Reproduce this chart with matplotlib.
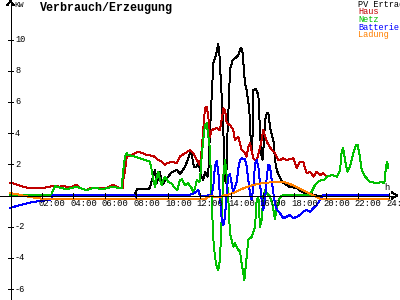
import matplotlib
matplotlib.use("Agg")
import matplotlib.pyplot as plt

# ---- data (hours, kW) ----
pv_t = [0, 7.85, 8.04, 8.8, 8.86, 9.18, 9.30, 9.49, 9.62, 9.94, 10.25, 10.57, 10.76, 11.08, 11.39, 11.5,
        11.65, 11.82, 11.92, 12.03, 12.13, 12.23, 12.34, 12.5, 12.55, 12.66, 12.87, 13.03, 13.18, 13.25,
        13.40, 13.5, 13.6, 13.68, 13.77, 13.87, 13.92, 14.10, 14.24, 14.45, 14.60, 14.70, 14.77, 14.87,
        14.98, 15.15, 15.19, 15.30, 15.37, 15.40, 15.55, 15.72, 15.82, 15.90, 15.98, 16.08, 16.14, 16.25,
        16.35, 16.46, 16.56, 16.67, 16.77, 16.88, 17.09, 17.30, 17.72, 18.15, 18.35, 18.67, 18.99, 19.30,
        19.41, 24]
pv_v = [0, 0, 0.42, 0.42, 0.55, 1.63, 0.80, 1.50, 0.67, 1.12, 1.51, 1.63, 1.38, 1.83, 2.70, 2.6,
        1.83, 1.85, 2.17, 1.63, 1.21, 1.0, 1.5, 1.2, 1.4, 4.2, 8.49, 9.0, 9.71, 9.13,
        6.3, 4.2, 1.0, 0.8, 4.2, 6.5, 8.05, 8.69, 8.79, 9.0, 9.44, 9.33, 8.49, 7.21,
        6.76, 5.48, 4.20, 2.9, 4.2, 6.76, 6.83, 6.44, 4.20, 2.6, 2.3, 3.5, 4.84, 5.27,
        5.27, 4.39, 3.9, 3.56, 2.28, 1.63, 1.12, 0.80, 0.54, 0.48, 0.29, 0.16, 0.10, 0.03,
        0, 0]

haus_t = [0, 0.21, 0.53, 0.82, 1.27, 1.9, 2.53, 2.72, 2.96, 3.16, 3.35, 3.59, 3.80, 4.22, 4.43, 4.62,
          4.85, 5.06, 5.27, 5.70, 5.89, 6.12, 6.52, 6.85, 7.13, 7.17, 7.28, 7.39, 7.59, 7.91, 8.12,
          8.34, 8.65, 9.07, 9.39, 9.60, 9.81, 9.92, 10.23, 10.55, 10.76, 11.08, 11.39, 11.6, 11.82,
          12.03, 12.13, 12.23, 12.34, 12.45, 12.55, 12.66, 12.76, 13.08, 13.29, 13.46, 13.50, 13.61,
          13.72, 13.92, 14.13, 14.24, 14.45, 14.66, 14.87, 14.98, 15.08, 15.19, 15.40, 15.61, 15.93,
          16.03, 16.25, 16.56, 16.77, 16.98, 17.09, 17.30, 17.51, 17.93, 18.15, 18.35, 18.56, 18.78,
          18.99, 19.20, 19.41, 19.62, 19.83, 20.04, 20.36, 20.68, 20.89, 20.99, 21.09, 21.20, 21.35,
          21.52, 21.73, 21.90, 22.0, 22.11, 22.26, 22.47, 22.78, 23.21, 23.52, 23.69, 23.80, 23.88, 23.94]
haus_v = [0.78, 0.78, 0.67, 0.56, 0.46, 0.46, 0.56, 0.61, 0.61, 0.56, 0.61, 0.56, 0.50, 0.70, 0.48, 0.42,
          0.35, 0.46, 0.46, 0.46, 0.45, 0.50, 0.70, 0.50, 0.50, 1.0, 1.6, 2.49, 2.53, 2.71, 2.81,
          2.74, 2.60, 2.53, 2.28, 2.17, 1.96, 2.06, 2.17, 2.06, 2.50, 2.71, 2.92, 2.71, 2.28,
          1.96, 2.92, 4.2, 5.59, 5.69, 5.05, 3.77, 4.2, 4.31, 4.2, 5.27, 5.59, 5.48,
          4.63, 4.52, 4.2, 3.56, 3.77, 2.92, 2.71, 2.49, 3.13, 3.35, 2.38, 2.17, 3.56,
          4.2, 3.45, 2.92, 2.71, 2.28, 2.28, 2.38, 2.28, 2.38, 1.74, 2.15, 2.15, 1.42,
          1.53, 1.21, 1.53, 1.31, 1.42, 1.21, 1.31, 1.21, 1.63, 2.81, 3.03, 2.28, 1.53,
          1.85, 2.71, 3.24, 3.24, 2.71, 1.63, 1.21, 0.88, 0.78, 0.88, 0.78, 1.85, 2.17, 1.74]

netz_t = [0, 2.6, 2.72, 2.85, 2.96, 3.16, 3.59, 3.80, 4.22, 4.43, 4.85, 5.27, 5.89, 6.52, 6.85, 7.07,
          7.17, 7.28, 7.39, 7.47, 7.70, 8.23, 8.65, 8.86, 8.97, 9.07, 9.18, 9.28, 9.39, 9.49, 9.60,
          9.70, 9.81, 10.02, 10.23, 10.44, 10.59, 10.76, 10.87, 11.08, 11.28, 11.50, 11.60, 11.71,
          11.82, 11.96, 12.03, 12.13, 12.23, 12.34, 12.45, 12.55, 12.66, 12.76, 12.87, 12.97, 13.08,
          13.18, 13.29, 13.40, 13.50, 13.61, 13.72, 13.82, 13.92, 14.03, 14.13, 14.24, 14.35, 14.45,
          14.56, 14.66, 14.77, 14.83, 14.92, 15.08, 15.30, 15.51, 15.61, 15.72, 15.82, 15.93, 16.03,
          16.14, 16.25, 16.46, 16.6, 16.77, 16.88, 17.09, 17.30, 18.99, 19.09, 19.30, 19.51, 19.73,
          19.94, 20.04, 20.36, 20.68, 20.89, 20.99, 21.09, 21.20, 21.35, 21.52, 21.73, 21.90, 22.0,
          22.11, 22.26, 22.47, 22.78, 23.21, 23.52, 23.69, 23.80, 23.88, 23.94]
netz_v = [0.03, 0.03, 0.3, 0.61, 0.56, 0.50, 0.40, 0.45, 0.56, 0.48, 0.35, 0.48, 0.42, 0.56, 0.48, 0.50,
          1.63, 2.49, 2.71, 2.60, 2.55, 2.38, 2.25, 2.17, 1.63, 0.99, 0.56, 1.12, 1.53, 0.99, 0.67,
          0.99, 1.21, 0.88, 0.78, 0.46, 0.35, 0.99, 1.04, 0.67, 0.78, 0.46, 0.14, 0.46,
          0.99, 0.88, 0.99, 2.49, 3.56, 4.52, 4.63, 3.8, 2.92, -0.29, -2.8, -3.92, -4.56,
          -4.78, -4.13, -1.36, 1.21, 2.28, 1.21, -0.29, -2.42, -2.85, -3.28, -3.06, -3.28, -3.49,
          -3.60, -4.35, -4.99, -5.42, -4.56, -2.85, -2.64, -2.0, -0.29, -0.1, -2.0, -1.57, -0.08,
          0.35, 0.14, -0.08, -0.5, -1.5, -0.8, -0.1, 0.03, 0.03, 0.24, 0.67, 0.88, 0.99,
          1.04, 1.21, 1.31, 1.21, 1.63, 2.81, 3.03, 2.28, 1.53, 1.85, 2.71, 3.24, 3.24,
          2.71, 1.63, 1.21, 0.88, 0.78, 0.88, 0.78, 1.85, 2.17, 1.74]

batt_t = [0, 0.6, 1.27, 1.9, 2.4, 2.6, 2.7, 7.85, 7.95, 8.1, 11.3, 11.5, 11.65, 11.92, 12.03, 12.76,
          12.87, 12.97, 13.08, 13.18, 13.29, 13.40, 13.50, 13.61, 13.72, 13.82, 13.92, 14.03, 14.13,
          14.24, 14.35, 14.45, 14.56, 14.66, 14.87, 14.98, 15.08, 15.19, 15.30, 15.40, 15.51, 15.61,
          15.72, 15.82, 15.93, 16.03, 16.14, 16.25, 16.35, 16.46, 16.56, 16.67, 16.77, 16.88, 17.09,
          17.30, 17.51, 17.72, 17.93, 18.15, 18.35, 18.56, 18.78, 18.99, 19.20, 19.41, 19.62, 19.83, 24]
batt_v = [-0.80, -0.62, -0.45, -0.35, -0.3, -0.25, 0.02, 0.02, -0.08, 0.02, 0.02, 0.1, 0.14, 0.35, -0.05, 0.03,
          0.6, 1.9, 2.2, 1.6, -0.08, -1.57, -1.89, -1.36, 0.35, 1.21, 1.38, 0.78, 0.14,
          0.56, 0.88, 1.74, 2.28, 2.38, 2.32, 1.85, 0.99, 0.14, -0.29, 0.56, 2.06, 2.28,
          1.85, 0.78, -0.29, -0.93, -0.29, 1.21, 1.96, 1.85, 1.0, 0.14, -0.5, -0.9, -1.14,
          -1.46, -1.36, -1.25, -1.46, -1.36, -1.25, -1.04, -0.93, -1.04, -0.82, -0.61, -0.29, 0.02, 0.02]

lad_t = [0, 0.21, 0.6, 1.27, 2.0, 2.5, 12.3, 12.7, 13.0, 13.3, 13.5, 13.8, 14.1, 14.5, 15.0, 15.5,
         16.0, 16.6, 17.4, 17.8, 18.2, 18.6, 19.0, 19.4, 19.7, 24]
lad_v = [0.16, 0.12, 0.05, -0.10, -0.2, -0.25, -0.25, -0.02, -0.1, -0.1, 0.0, 0.05, 0.15, 0.35, 0.55, 0.7,
         0.8, 0.85, 0.85, 0.7, 0.5, 0.3, 0.1, -0.1, -0.25, -0.25]

x_ticks = [2, 4, 6, 8, 10, 12, 14, 16, 18, 20, 22, 24]
x_labels = ["02:00", "04:00", "06:00", "08:00", "10:00", "12:00", "14:00", "16:00",
            "18:00", "20:00", "22:00", "24:00"]
y_ticks = [10, 8, 6, 4, 2, -2, -4, -6]
y_labels = ["10", "8", "6", "4", "2", "-2", "-4", "-6"]

series_names = ["PV Ertrag", "Haus", "Netz", "Batterie", "Ladung"]
series_colors = ["#000000", "#c00000", "#00c000", "#0000ff", "#ff8000"]

# ---- layout (pixels) ----
W, H = 400, 300
X0, XS = 10.0, 15.8     # x pixel of 0h, px per hour
Y0, YS = 195.5, 15.6    # y pixel of 0 kW, px per kW

fig = plt.figure(figsize=(4, 3), dpi=100)
fig.patch.set_facecolor("white")
ax = fig.add_axes([0, 0, 1, 1])
ax.set_xlim(-X0 / XS, (W - X0) / XS)
ax.set_ylim(-(H - Y0) / YS, Y0 / YS)
ax.axis("off")

def fx(px):
    return px / W
def fy(py):
    return 1 - py / H

tf = fig.transFigure
LW = 0.7
def pline(xs, ys):
    fig.add_artist(plt.Line2D([fx(x) for x in xs], [fy(y) for y in ys], color="black",
                              lw=LW, transform=tf, antialiased=False))

# axes lines
pline([10.5, 10.5], [1, 300])
pline([0, 396], [Y0, Y0])
pline([7.5, 10.5, 13.5], [5, 1, 5])
pline([392, 397, 392], [Y0 - 3, Y0, Y0 + 3])

mono = "Liberation Mono"
for v, lab in zip(y_ticks, y_labels):
    py = Y0 - v * YS
    pline([8, 13], [py, py])
    fig.text(fx(15), fy(py), lab, family=mono, fontsize=6.2, va="center", ha="left")
for h, lab in zip(x_ticks, x_labels):
    px = X0 + h * XS
    pline([px, px], [Y0 - 2.5, Y0 + 2.5])
    fig.text(fx(px - 3), fy(205.5), lab, family=mono, fontsize=6.4, va="baseline", ha="left")

fig.text(fx(14), fy(6.8), "KW", family=mono, fontsize=5.8, va="baseline", ha="left")
fig.text(fx(384.5), fy(189.5), "h", family=mono, fontsize=6.4, va="baseline", ha="left")
fig.text(fx(40), fy(10.5), "Verbrauch/Erzeugung", family=mono, fontsize=8.4, fontweight="bold",
         va="baseline", ha="left")

# data lines
data = [(pv_t, pv_v), (haus_t, haus_v), (netz_t, netz_v), (batt_t, batt_v), (lad_t, lad_v)]
for (t, v), c in zip(data, series_colors):
    ax.plot(t, v, color=c, lw=LW, antialiased=False)

# legend texts
base = [6.8, 14.4, 22.1, 29.8, 37.4]
for name, c, b in zip(series_names, series_colors, base):
    fig.text(fx(358), fy(b), name, family=mono, fontsize=6.2, color=c, va="baseline", ha="left")

fig.savefig("out.png", dpi=100, facecolor="white")
